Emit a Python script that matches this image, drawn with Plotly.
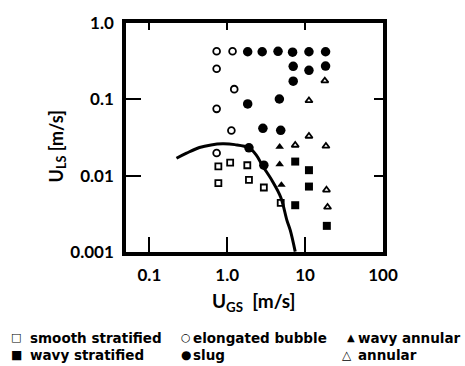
import plotly.graph_objects as go

# Superficial gas / liquid velocities [m/s] for each observed flow pattern
smooth_strat_ugs = [0.769, 1.09, 1.81, 0.769, 1.90, 2.95, 4.86]
smooth_strat_uls = [0.0132, 0.0148, 0.0137, 0.0080, 0.0088, 0.0070, 0.0044]

wavy_strat_ugs = [7.46, 11.2, 11.2, 7.46, 19.0]
wavy_strat_uls = [0.0153, 0.0118, 0.0072, 0.0041, 0.0022]

elong_bubble_ugs = [0.731, 1.17, 0.731, 1.23, 0.731, 1.13, 0.731]
elong_bubble_uls = [0.427, 0.427, 0.252, 0.136, 0.075, 0.039, 0.0198]

slug_ugs = [1.83, 2.81, 4.49, 6.90, 11.2, 18.3,
            7.03, 11.2, 18.3, 7.03,
            1.83, 4.67, 2.87, 4.86, 1.90, 2.95]
slug_uls = [0.420, 0.420, 0.425, 0.415, 0.420, 0.420,
            0.271, 0.240, 0.273, 0.173,
            0.087, 0.101, 0.0417, 0.0393, 0.0232, 0.0137]

wavy_annular_ugs = [4.71, 4.71, 4.96]
wavy_annular_uls = [0.0239, 0.0141, 0.00755]

annular_ugs = [17.9, 11.2, 11.2, 7.46, 18.5, 18.8, 19.4]
annular_uls = [0.175, 0.0962, 0.0329, 0.0251, 0.0244, 0.0065, 0.00387]

# Stratified / non-stratified transition boundary
boundary_ugs = [0.223, 0.30, 0.44, 0.62, 0.87, 1.25, 1.90, 2.35, 2.81, 3.77,
                4.86, 5.84, 6.44, 7.46]
boundary_uls = [0.0169, 0.0197, 0.0234, 0.0253, 0.0261, 0.0255, 0.0232, 0.0187,
                0.0137, 0.0086, 0.00522, 0.0026, 0.00193, 0.00101]

x_tickvals = [0.1, 1, 10, 100]
x_ticktext = ["0.1", "1.0", "10", "100"]
y_tickvals = [0.001, 0.01, 0.1, 1]
y_ticktext = ["0.001", "0.01", "0.1", "1.0"]

x_title = "U<sub>GS</sub>  [m/s]"
y_title = "U<sub>LS</sub> [m/s]"

legend_labels = ["smooth stratified", "wavy stratified", "elongated bubble",
                 "slug", "wavy annular", "annular"]
legend_glyphs = ["\u25a1", "\u25a0", "\u25cb", "\u25cf", "\u25b2", "\u25b3"]

FONT = "Lato"
KEY_FONT = "DejaVu Sans"
INK = "black"

fig = go.Figure()

fig.add_trace(go.Scatter(
    x=boundary_ugs, y=boundary_uls, mode="lines",
    line=dict(color=INK, width=3, shape="spline", smoothing=1.0),
    showlegend=False, hoverinfo="skip"))

def pattern(xs, ys, symbol, size, name, lw=0):
    fig.add_trace(go.Scatter(
        x=xs, y=ys, mode="markers", name=name, showlegend=False,
        marker=dict(symbol=symbol, size=size, color=INK,
                    line=dict(color=INK, width=lw))))

pattern(smooth_strat_ugs, smooth_strat_uls, "square-open", 6, legend_labels[0], 1.8)
pattern(wavy_strat_ugs, wavy_strat_uls, "square", 8, legend_labels[1])
pattern(elong_bubble_ugs, elong_bubble_uls, "circle-open", 6.8, legend_labels[2], 1.8)
pattern(slug_ugs, slug_uls, "circle", 9.5, legend_labels[3])
pattern(wavy_annular_ugs, wavy_annular_uls, "triangle-up", 7.5, legend_labels[4])
pattern(annular_ugs, annular_uls, "triangle-up-open", 6.3, legend_labels[5], 1.8)

# empty traces so the top and right tick axes are drawn
fig.add_trace(go.Scatter(x=[], y=[], xaxis="x2", yaxis="y", showlegend=False))
fig.add_trace(go.Scatter(x=[], y=[], xaxis="x", yaxis="y2", showlegend=False))

x_range = [-1.3, 2.0]
y_range = [-3.0, 0.0]

L, R, T, B = 126, 82, 20, 114
W, H = 465, 366

fig.update_layout(
    width=W, height=H,
    margin=dict(l=L, r=R, t=T, b=B),
    paper_bgcolor="white", plot_bgcolor="white",
    font=dict(family=FONT, color=INK, weight="bold"),
    xaxis=dict(
        type="log", range=x_range, tickvals=x_tickvals, ticktext=x_ticktext,
        ticks="inside", ticklen=15, tickwidth=2, tickcolor=INK,
        showline=True, linewidth=3.5, linecolor=INK, mirror=True,
        showgrid=False, zeroline=False, ticklabelstandoff=5,
        tickfont=dict(size=17, family=FONT, weight="bold"),
    ),
    yaxis=dict(
        type="log", range=y_range, tickvals=y_tickvals, ticktext=y_ticktext,
        ticks="inside", ticklen=15, tickwidth=2, tickcolor=INK,
        showline=True, linewidth=3.5, linecolor=INK, mirror=True,
        showgrid=False, zeroline=False, ticklabelstandoff=5,
        tickfont=dict(size=17, family=FONT, weight="bold"),
    ),
    xaxis2=dict(
        type="log", range=x_range, tickvals=x_tickvals, overlaying="x",
        side="top", anchor="y", ticks="inside", ticklen=7, tickwidth=2,
        tickcolor=INK, showticklabels=False, showgrid=False, zeroline=False,
        showline=False),
    yaxis2=dict(
        type="log", range=y_range, tickvals=y_tickvals, overlaying="y",
        side="right", anchor="x", ticks="inside", ticklen=9, tickwidth=2,
        tickcolor=INK, showticklabels=False, showgrid=False, zeroline=False,
        showline=False),
)

pw, ph = W - L - R, H - T - B
def px_x(p):
    return (p - L) / pw
def px_y(p):
    return (H - B - p) / ph

# axis titles
fig.add_annotation(x=px_x(254), y=px_y(303), xref="paper", yref="paper",
                   text=x_title, showarrow=False, xanchor="center", yanchor="middle",
                   font=dict(size=19, family=FONT, weight="bold", color=INK))
fig.add_annotation(x=px_x(57), y=px_y(145), xref="paper", yref="paper",
                   text=y_title, showarrow=False, textangle=-90,
                   xanchor="center", yanchor="middle",
                   font=dict(size=18, family=FONT, weight="bold", color=INK))

# key below the chart: three columns, two rows
key_rows = [339, 356]
key_text_x = [28, 28, 191, 191, 356, 356]
key_glyph_x = [15.5, 16, 185.5, 186, 351, 347]
key_glyph_size = [11, 12, 11, 12, 10, 12]
for i, (lab, gl) in enumerate(zip(legend_labels, legend_glyphs)):
    yy = px_y(key_rows[i % 2])
    fig.add_annotation(x=px_x(key_text_x[i]), y=yy, xref="paper", yref="paper",
                       text=lab, showarrow=False, xanchor="left", yanchor="middle",
                       font=dict(size=13.5, family=KEY_FONT, weight="bold", color=INK))
    fig.add_annotation(x=px_x(key_glyph_x[i]), y=yy, xref="paper", yref="paper",
                       text=gl, showarrow=False, xanchor="center", yanchor="middle",
                       font=dict(size=key_glyph_size[i], family=KEY_FONT, color=INK))

fig.write_html("out.html")
